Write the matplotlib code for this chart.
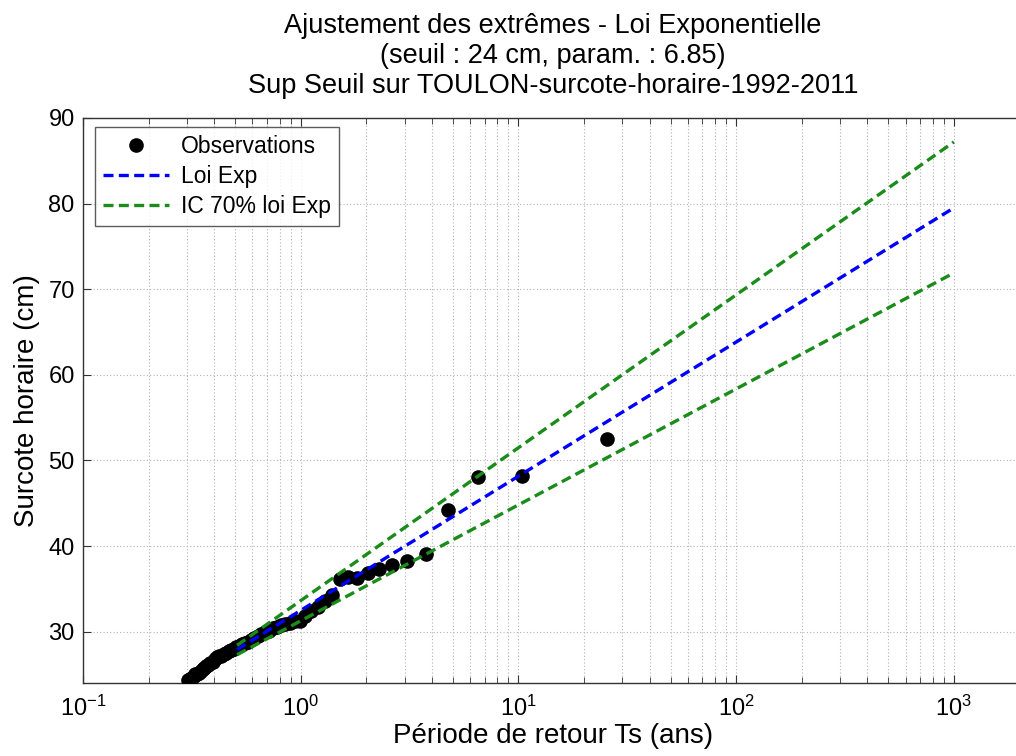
import matplotlib
matplotlib.use("Agg")
import matplotlib.pyplot as plt
from matplotlib.ticker import LogLocator, NullFormatter, FixedLocator

plt.rcParams['font.family'] = ['Liberation Sans', 'DejaVu Sans']
plt.rcParams['mathtext.fontset'] = 'custom'
plt.rcParams['mathtext.rm'] = 'Liberation Sans'
plt.rcParams['mathtext.it'] = 'Liberation Sans'
plt.rcParams['mathtext.default'] = 'regular'

# Observed exceedances: return period (years) and hourly surge (cm)
periode_obs = [25.5, 10.4, 6.55, 4.77, 3.75, 3.09, 2.63, 2.29, 2.03, 1.82,
               1.65, 1.51, 1.39, 1.29, 1.20, 1.12, 1.05, 0.995, 0.942, 0.894,
               0.851, 0.811, 0.776, 0.743, 0.713, 0.685, 0.659, 0.636, 0.613, 0.592,
               0.573, 0.555, 0.538, 0.522, 0.507, 0.493, 0.480, 0.467, 0.455, 0.443,
               0.432, 0.422, 0.412, 0.403, 0.394, 0.385, 0.377, 0.369, 0.361, 0.354,
               0.347, 0.340, 0.334, 0.328, 0.322, 0.316, 0.310, 0.305]
surcote_obs = [52.5, 48.2, 48.1, 44.2, 39.1, 38.2, 37.8, 37.3, 36.9, 36.3,
               36.4, 36.2, 34.3, 33.6, 32.9, 32.4, 31.8, 31.3, 31.2, 31.0,
               30.9, 30.8, 30.5, 30.4, 30.1, 29.9, 29.7, 29.5, 29.3, 29.0,
               28.8, 28.7, 28.5, 28.3, 28.2, 28.0, 27.9, 27.7, 27.5, 27.4,
               27.2, 27.1, 27.0, 26.8, 26.5, 26.3, 26.1, 26.0, 25.8, 25.6,
               25.4, 25.2, 25.1, 25.0, 24.8, 24.6, 24.5, 24.4]

# Fitted exponential law and its 70% confidence band (straight in log-T)
periode_fit = [0.51, 1000.0]
surcote_fit = [27.9, 79.5]
ic_sup = [28.4, 87.2]
ic_inf = [27.3, 71.9]

x_ticks = [0.1, 1, 10, 100, 1000]
y_ticks = [30, 40, 50, 60, 70, 80, 90]

fig = plt.figure(figsize=(10.16, 7.56), dpi=100)
ax = fig.add_axes([83 / 1016, 1 - 683 / 756, 941 / 1016, 565 / 756])

ax.semilogx(periode_obs, surcote_obs, 'o', color='black', markersize=9.5,
            markeredgecolor='black', label='Observations', zorder=3)
ax.semilogx(periode_fit, surcote_fit, '--', color=(0, 0, 1), linewidth=2.4,
            dashes=(3, 1.6), label='Loi Exp', zorder=4)
ax.semilogx(periode_fit, ic_sup, '--', color=(0.1, 0.55, 0.1), linewidth=2.4,
            dashes=(3, 1.6), label='IC 70% loi Exp', zorder=4)
ax.semilogx(periode_fit, ic_inf, '--', color=(0.1, 0.55, 0.1), linewidth=2.4,
            dashes=(3, 1.6), zorder=4)

ax.set_xlim(0.1, 2100)
ax.set_ylim(24, 90)
ax.yaxis.set_major_locator(FixedLocator(y_ticks))
ax.xaxis.set_major_locator(FixedLocator(x_ticks))
ax.set_xticklabels([r'$10^{-1}$', r'$10^{0}$', r'$10^{1}$', r'$10^{2}$', r'$10^{3}$'])
ax.xaxis.set_minor_locator(LogLocator(base=10, subs=range(2, 10), numticks=20))
ax.xaxis.set_minor_formatter(NullFormatter())

ax.grid(True, which='major', axis='both', linestyle=(0, (1, 2)), color='#b4b4b4', linewidth=0.8)
ax.grid(True, which='minor', axis='x', linestyle=(0, (1, 2)), color='#b4b4b4', linewidth=0.8)
ax.set_axisbelow(True)

ax.tick_params(which='both', direction='in', top=True, right=True, labelsize=17,
               color='#333333')
ax.tick_params(which='major', length=6)
ax.tick_params(which='minor', length=4)
ax.tick_params(axis='x', which='major', pad=9)
ax.tick_params(axis='y', which='major', pad=6)
for s in ax.spines.values():
    s.set_color('#333333')
    s.set_linewidth(1.0)

ax.set_xlabel('Période de retour Ts (ans)', fontsize=20, labelpad=2)
ax.set_ylabel('Surcote horaire (cm)', fontsize=20, labelpad=6)

fig.text(553 / 1016, 1 - 56 / 756,
         'Ajustement des extrêmes - Loi Exponentielle\n'
         '(seuil : 24 cm, param. : 6.85)\n'
         'Sup Seuil sur TOULON-surcote-horaire-1992-2011',
         ha='center', va='center', fontsize=19.5, linespacing=1.22)

leg = ax.legend(loc='upper left', bbox_to_anchor=(95 / 1016, 1 - 127 / 756),
                bbox_transform=fig.transFigure, fontsize=16.5, frameon=True,
                fancybox=False, edgecolor='#333333', borderaxespad=0,
                handlelength=2.9, handletextpad=0.5, labelspacing=0.3,
                borderpad=0.35)
leg.get_frame().set_linewidth(1.0)

fig.savefig('out.png', dpi=100)
